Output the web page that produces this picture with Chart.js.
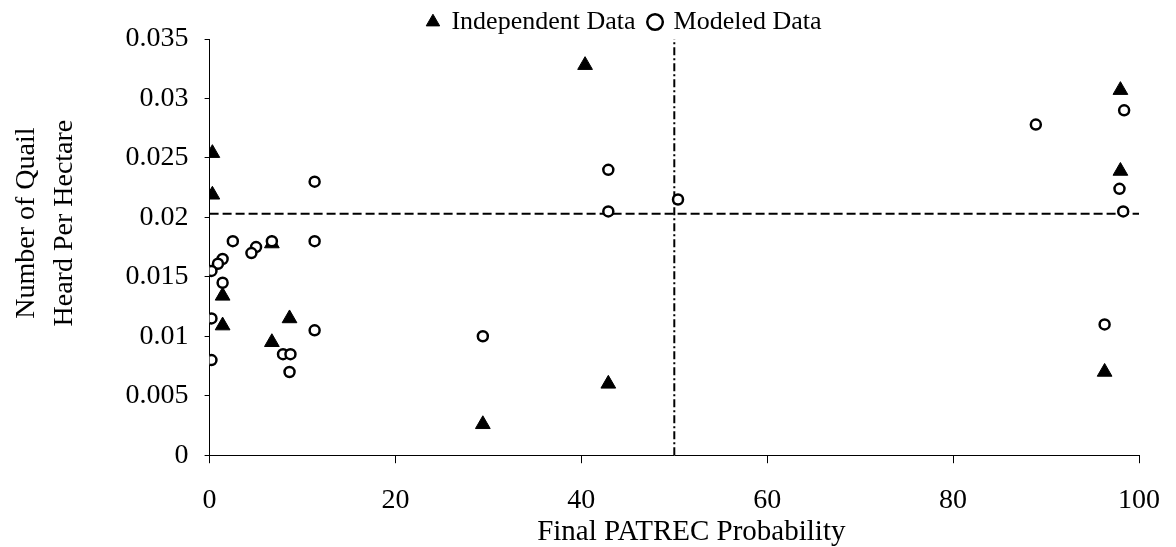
<!DOCTYPE html>
<html>
<head>
<meta charset="utf-8">
<script src="https://cdn.jsdelivr.net/npm/chart.js@4"></script>
<style>
  html, body { margin: 0; padding: 0; background: #fff; }
</style>
</head>
<body>
<canvas id="quailCanvas" width="1176" height="547"></canvas>
<script>
// independent observations (triangles)
const independentX = [0.3, 0.3, 1.4, 1.4, 6.7, 6.7, 8.6, 29.4, 40.4, 42.9, 96.3, 98.0, 98.0];
const independentY = [0.0254, 0.0219, 0.0134, 0.0109, 0.0178, 0.0095, 0.0115, 0.0026, 0.0328, 0.006, 0.007, 0.0239, 0.0307];

// modeled values (circles)
const modeledX = [11.3, 2.5, 5.0, 4.5, 6.7, 11.3, 1.4, 0.9, 0.2, 1.4, 0.2, 11.3, 7.9, 8.7, 8.6, 0.2,
  29.4, 42.9, 42.9, 50.4, 88.9, 98.4, 97.9, 98.3, 96.3];
const modeledY = [0.023, 0.018, 0.0175, 0.017, 0.018, 0.018, 0.0165, 0.0161, 0.0155, 0.0145, 0.0115, 0.0105, 0.0085, 0.0085, 0.007, 0.008,
  0.01, 0.024, 0.0205, 0.0215, 0.0278, 0.029, 0.0224, 0.0205, 0.011];

// reference lines
const meanQuail = 0.0203;
const patrecCut = 50;

const xTicks = [0, 20, 40, 60, 80, 100];
const yTickLabels = ["0", "0.005", "0.01", "0.015", "0.02", "0.025", "0.03", "0.035"];

const serif = "'Liberation Serif', 'Times New Roman', serif";

function toPoints(xs, ys) {
    return xs.map((x, i) => ({ x: x, y: ys[i] }));
}

// nudge a scale's title a bit off its default centred spot
function nudgeTitle(scale, dx, dy) {
    if (scale._nudged) return;
    const orig = scale.drawTitle.bind(scale);
    scale.drawTitle = function () {
        const ctx = scale.ctx;
        ctx.save();
        ctx.translate(dx, dy);
        orig();
        ctx.restore();
    };
    scale._nudged = true;
}

// move legend + titles where the original had them
const placeBits = {
    id: "placeBits",
    afterLayout(chart) {
        const lg = chart.legend;
        lg.left += 51;
        lg.right += 51;
        lg.top += 6;
        lg.bottom += 6;
        nudgeTitle(chart.scales.x, 17, 0);
        nudgeTitle(chart.scales.y, 0, -24);
    },
};

const quailChart = new Chart(document.getElementById("quailCanvas"), {
    type: "scatter",
    data: {
        datasets: [
            {
                label: "Independent Data",
                data: toPoints(independentX, independentY),
                pointStyle: "triangle",
                pointRadius: 8.5,
                backgroundColor: "#000",
                borderColor: "#000",
                borderWidth: 1,
                order: 1,
            },
            {
                label: "Modeled Data",
                data: toPoints(modeledX, modeledY),
                pointStyle: "circle",
                pointRadius: 5,
                backgroundColor: "#fff",
                borderColor: "#000",
                borderWidth: 2.5,
                order: 0,
            },
            {
                type: "line",
                label: "mean",
                data: [{ x: 0, y: meanQuail }, { x: 100, y: meanQuail }],
                borderColor: "#000",
                borderWidth: 2,
                borderDash: [9, 4],
                pointRadius: 0,
                fill: false,
                order: 2,
            },
            {
                type: "line",
                label: "cut",
                data: [{ x: patrecCut, y: 0 }, { x: patrecCut, y: 0.035 }],
                borderColor: "#000",
                borderWidth: 2,
                borderDash: [8, 3, 2, 3],
                pointRadius: 0,
                fill: false,
                order: 3,
            },
        ],
    },
    options: {
        responsive: false,
        animation: false,
        devicePixelRatio: 1,
        layout: { padding: { left: 8, right: 37, top: -11, bottom: 0 } },
        plugins: {
            tooltip: { enabled: false },
            legend: {
                position: "top",
                labels: {
                    usePointStyle: true,
                    boxWidth: 11,
                    boxHeight: 11,
                    padding: 14,
                    color: "#000",
                    font: { family: serif, size: 26 },
                    filter: (item) => item.datasetIndex < 2,
                    sort: (a, b) => a.datasetIndex - b.datasetIndex,
                },
            },
        },
        scales: {
            x: {
                type: "linear",
                min: 0,
                max: 100,
                afterBuildTicks: (axis) => { axis.ticks = xTicks.map((v) => ({ value: v })); },
                ticks: {
                    color: "#000",
                    // tall line box pushes the labels down without eating right-side room
                    font: { family: serif, size: 28, lineHeight: 2.214 },
                    padding: 6,
                },
                grid: { drawOnChartArea: false, tickLength: 8, color: "#000" },
                border: { color: "#000", width: 1 },
                title: {
                    display: true,
                    text: "Final PATREC Probability",
                    color: "#000",
                    font: { family: serif, size: 29 },
                    padding: { top: -22, bottom: -3 },
                },
            },
            y: {
                type: "linear",
                min: 0,
                max: 0.035,
                afterBuildTicks: (axis) => { axis.ticks = yTickLabels.map((t) => ({ value: parseFloat(t) })); },
                ticks: {
                    color: "#000",
                    font: { family: serif, size: 28 },
                    padding: 16,
                    callback: (v, i) => yTickLabels[i],
                },
                grid: { drawOnChartArea: false, tickLength: 5, color: "#000" },
                border: { color: "#000", width: 1 },
                title: {
                    display: true,
                    text: ["Number of Quail", "Heard Per Hectare"],
                    color: "#000",
                    font: { family: serif, size: 28, lineHeight: 1.35 },
                    padding: { top: 0, bottom: 26 },
                },
            },
        },
    },
    plugins: [placeBits],
});
</script>
</body>
</html>
